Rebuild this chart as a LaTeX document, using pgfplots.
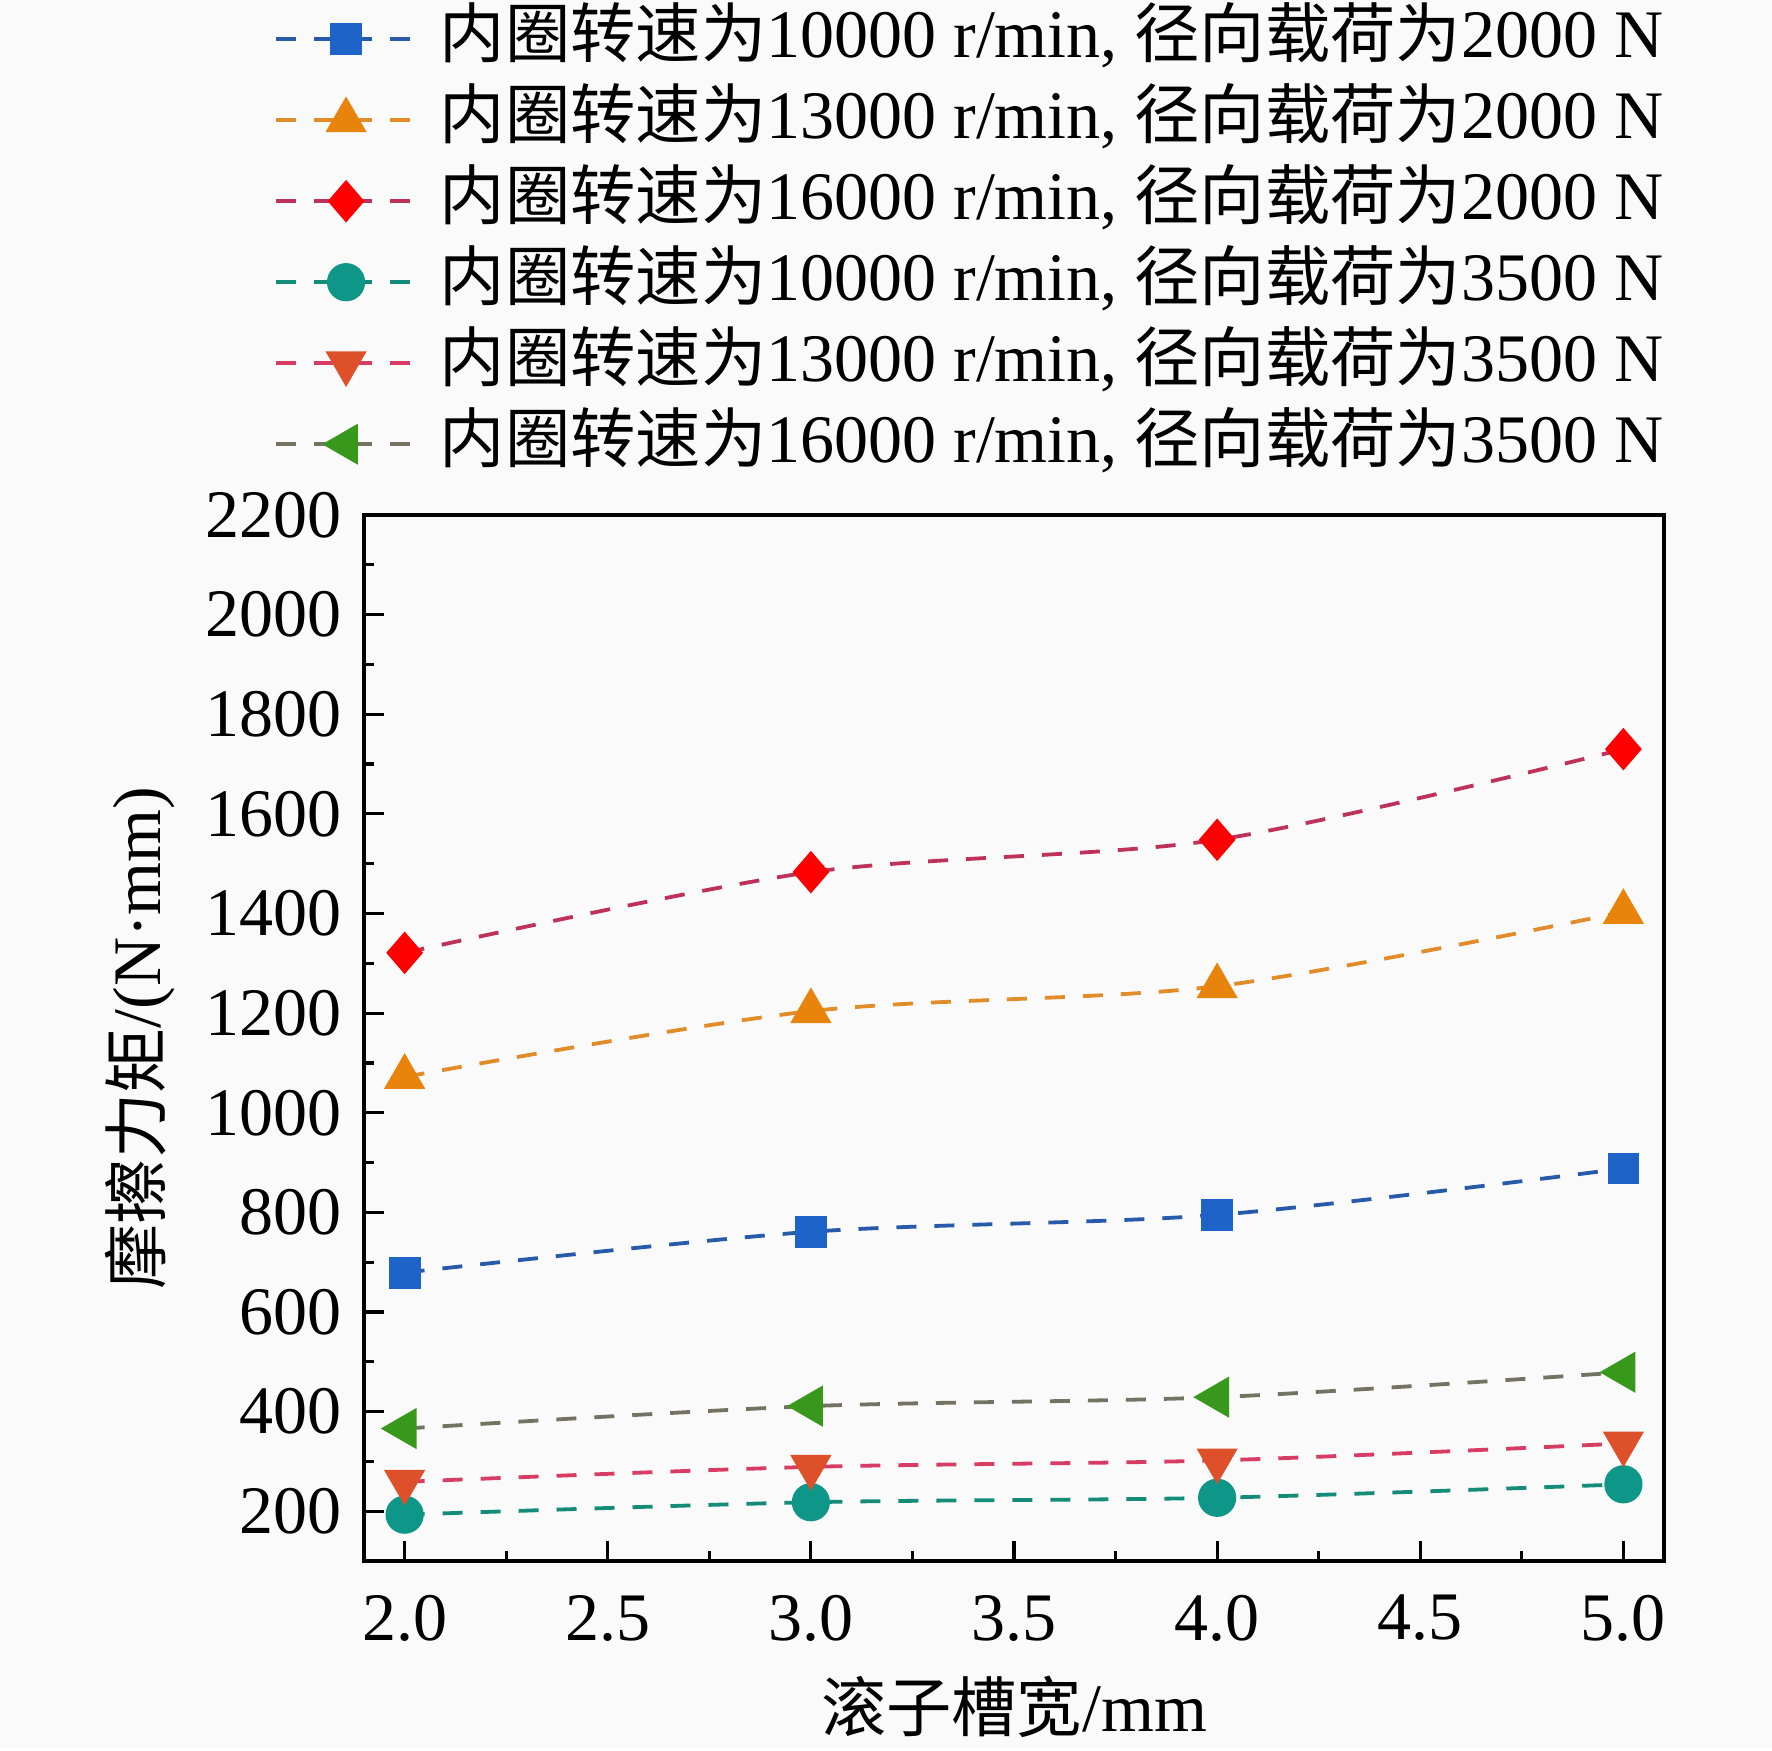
\documentclass[border=0pt]{standalone}
\usepackage{fontspec}
\setmainfont{Liberation Serif}
\newfontfamily\cjk[Scale=0.96]{Noto Sans CJK SC}
\usepackage{pgfplots}
\pgfplotsset{compat=1.18}
\definecolor{bg}{RGB}{250,250,250}
\definecolor{cblue}{RGB}{30,100,200}
\definecolor{lblue}{RGB}{40,90,170}
\definecolor{corange}{RGB}{232,132,12}
\definecolor{lorange}{RGB}{225,140,40}
\definecolor{cred}{RGB}{255,0,0}
\definecolor{lred}{RGB}{190,50,90}
\definecolor{cteal}{RGB}{14,150,136}
\definecolor{lteal}{RGB}{20,140,120}
\definecolor{cdown}{RGB}{222,80,42}
\definecolor{ldown}{RGB}{215,60,100}
\definecolor{cgreen}{RGB}{56,152,28}
\definecolor{lgreen}{RGB}{115,115,100}
\begin{document}
\begin{tikzpicture}[font=\fontsize{17}{20}\selectfont]
\fill[bg] (0,0) rectangle (443pt,437pt);
\begin{axis}[
  scale only axis,
  width=325pt, height=261.5pt,
  at={(91pt,46.75pt)}, anchor=south west,
  xmin=1.9, xmax=5.1, ymin=100, ymax=2200,
  xtick={2,2.5,3,3.5,4,4.5,5},
  ytick={200,400,...,2200},
  minor x tick num=1, minor y tick num=1,
  xtick pos=bottom, ytick pos=left,
  tick align=inside,
  major tick length=5pt, minor tick length=2.5pt,
  every tick/.style={black, line width=0.8pt},
  axis line style={line width=1pt},
  /pgf/number format/assume math mode=true,
  xticklabel style={yshift=-5pt, /pgf/number format/.cd, fixed, fixed zerofill, precision=1},
  yticklabel style={xshift=-2pt, /pgf/number format/.cd, set thousands separator={}},
  every axis y label/.style={at={(axis description cs:-0.172,0.5)}, rotate=90, anchor=center},
  every axis x label/.style={at={(axis description cs:0.5,-0.139)}, anchor=center},
  xlabel={{\cjk 滚子槽宽}/mm},
  ylabel={{\cjk 摩擦力矩}/(N·mm)},
  legend style={at={(1,1)}, anchor=south east, yshift=10pt, draw=none, fill=none,
    inner sep=0pt, row sep=5.25pt, column sep=5.5pt,
    nodes={inner sep=0pt, text height=12pt, text depth=3pt}},
  legend cell align=left,
  legend image code/.code={\draw[mark repeat=2,mark phase=2] plot coordinates {(0pt,0pt) (17.5pt,0pt) (35pt,0pt)};},
  every axis plot/.append style={line width=0.95pt, dash pattern=on 5pt off 4.5pt, smooth},
]
\addplot[lblue, mark=square*, mark size=3.5pt, mark options={solid, fill=cblue, draw=cblue}]
  coordinates {(2,679) (3,761) (4,795) (5,888)};
\addlegendentry{{\cjk 内圈转速为}10000 r/min, {\cjk 径向载荷为}2000 N}
\addplot[lorange, mark=triangle*, mark size=5pt, mark options={solid, fill=corange, draw=corange}]
  coordinates {(2,1072) (3,1204) (4,1254) (5,1403)};
\addlegendentry{{\cjk 内圈转速为}13000 r/min, {\cjk 径向载荷为}2000 N}
\addplot[lred, mark=diamond*, mark size=4.6pt, mark options={solid, xscale=1.15, fill=cred, draw=cred}]
  coordinates {(2,1321) (3,1483) (4,1548) (5,1730)};
\addlegendentry{{\cjk 内圈转速为}16000 r/min, {\cjk 径向载荷为}2000 N}
\addplot[lteal, mark=*, mark size=4.3pt, mark options={solid, fill=cteal, draw=cteal}]
  coordinates {(2,193) (3,218) (4,227) (5,254)};
\addlegendentry{{\cjk 内圈转速为}10000 r/min, {\cjk 径向载荷为}3500 N}
\addplot[ldown, mark=triangle*, mark size=5pt, mark options={solid, rotate=180, fill=cdown, draw=cdown}]
  coordinates {(2,259) (3,289) (4,302) (5,336)};
\addlegendentry{{\cjk 内圈转速为}13000 r/min, {\cjk 径向载荷为}3500 N}
\addplot[lgreen, mark=triangle*, mark size=5pt, mark options={solid, rotate=90, fill=cgreen, draw=cgreen}]
  coordinates {(2,366) (3,411) (4,429) (5,479)};
\addlegendentry{{\cjk 内圈转速为}16000 r/min, {\cjk 径向载荷为}3500 N}
\end{axis}
\end{tikzpicture}
\end{document}
